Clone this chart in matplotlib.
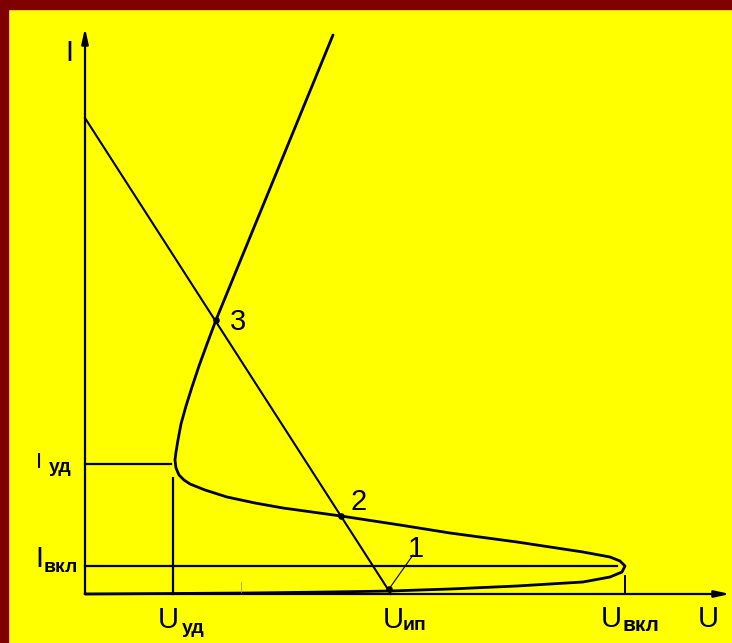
import matplotlib
matplotlib.use("Agg")
import matplotlib.pyplot as plt
from matplotlib.patches import Rectangle

# ---- data (U right, I up, arbitrary units with origin at axes crossing) ----
curve_U = [248, 131, 122, 114, 107, 101, 96, 93, 91, 90, 91, 94, 99, 105, 120, 142, 170, 198,
           256, 315, 365, 432, 498, 525, 535, 540, 537, 525, 498, 432, 365, 305,
           245, 165, 88, 0]
curve_I = [559, 274, 250, 228, 207, 188, 170, 154, 142, 134, 126, 119, 114, 110, 104, 97, 91, 86,
           78, 69, 61, 52, 42, 37, 33, 28, 22, 17, 12, 8, 5, 3,
           2, 1, 0.5, 0]
load_U = [0, 306]
load_I = [476, 0]
I_ud, U_ud = 130, 88
I_vkl, U_vkl = 28, 540
U_ip = 306
points_U = [304, 256, 131]
points_I = [5, 78, 274]
point_labels = ["1", "2", "3"]
U_max, I_max = 645, 566

fig = plt.figure(figsize=(7.32, 6.43), dpi=100, facecolor="#FFFF00")
ax = fig.add_axes([0, 0, 1, 1])
ax.set_facecolor("#FFFF00")
ax.set_xlim(-85, 647)
ax.set_ylim(-49, 594)
ax.axis("off")

k = "black"
# axes with arrows
ax.annotate("", xy=(0, I_max), xytext=(0, 0),
            arrowprops=dict(arrowstyle="-|>,head_length=0.9,head_width=0.2", lw=1.6, color=k,
                            shrinkA=0, shrinkB=0))
ax.annotate("", xy=(U_max, 0), xytext=(0, 0),
            arrowprops=dict(arrowstyle="-|>,head_length=0.9,head_width=0.2", lw=1.6, color=k,
                            shrinkA=0, shrinkB=0))

# characteristic curve
ax.plot(curve_U, curve_I, color=k, lw=2.0, solid_capstyle="round", solid_joinstyle="round")
# load line
ax.plot(load_U, load_I, color=k, lw=1.5)

# helper lines
ax.plot([0, U_ud - 2], [I_ud, I_ud], color=k, lw=1.6)
ax.plot([U_ud, U_ud], [0, I_ud - 14], color=k, lw=1.6)
ax.plot([0, U_vkl - 8], [I_vkl, I_vkl], color=k, lw=1.6)
ax.plot([U_vkl, U_vkl], [0, 18], color=k, lw=1.4)
ax.plot([156, 156], [0, 12], color="#999999", lw=0.6)

# points
ax.scatter(points_U, points_I, s=14, color=k, zorder=5)
ax.plot([points_U[0], points_U[0] + 24], [points_I[0], points_I[0] + 34], color=k, lw=0.8)

fam = ["Liberation Sans", "DejaVu Sans"]
big = 21

def lbl(x, y, main, subs, sx, sy, size=big, sub=14):
    ax.text(x, y, main, fontsize=size, family=fam, ha="left", va="baseline")
    if subs:
        ax.text(sx, sy, subs, fontsize=sub, family=fam, fontweight="bold",
                ha="left", va="baseline")

# axis labels
lbl(-20, 533, "I", None, 0, 0)
lbl(613, -33, "U", None, 0, 0)
# I labels
lbl(-49, 126, "I", "уд", -36, 122, size=16)
lbl(-50, 27, "I", "вкл", -41, 22)
# U labels
lbl(73, -34, "U", "уд", 97, -39)
lbl(298, -34, "U", "ип", 318, -36)
lbl(516, -33, "U", "вкл", 537, -37, sub=15)
# point numbers
ax.text(331, 37, "1", fontsize=big, family=fam, ha="center", va="baseline")
ax.text(265, 84, "2", fontsize=big, family=fam, ha="left", va="baseline")
ax.text(145, 264, "3", fontsize=big, family=fam, ha="left", va="baseline")

# dark red border on left and top
fig.add_artist(Rectangle((0, 0), 8 / 732, 1, transform=fig.transFigure,
                         color="#800000", zorder=10))
fig.add_artist(Rectangle((0, 1 - 9 / 643), 1, 9 / 643, transform=fig.transFigure,
                         color="#800000", zorder=10))

fig.savefig("out.png", dpi=100, facecolor="#FFFF00")
